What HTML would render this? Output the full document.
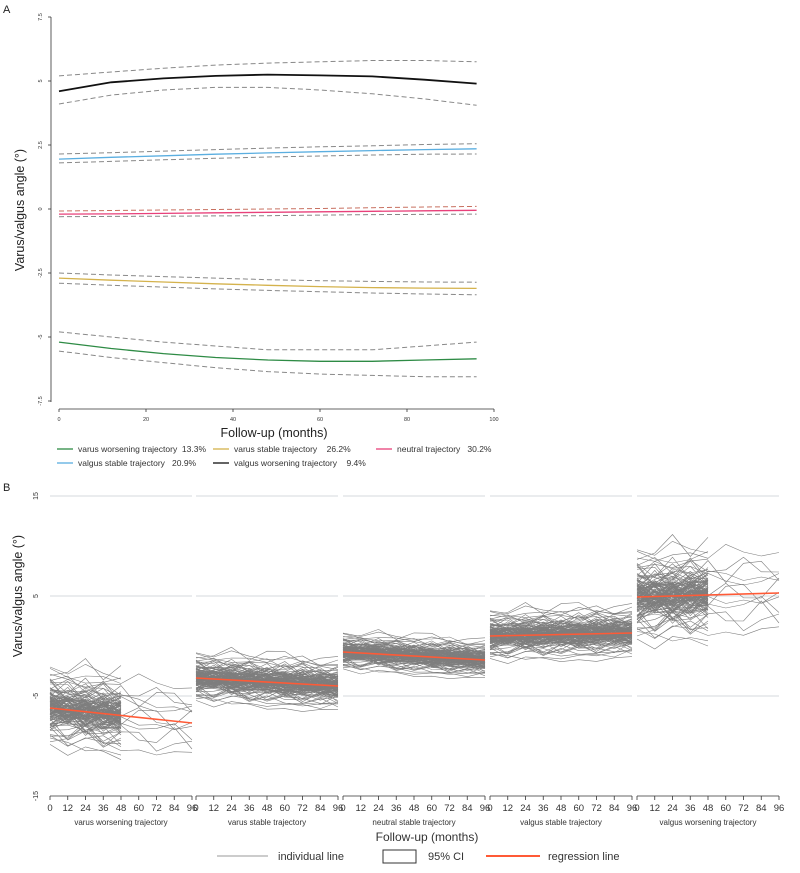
<!DOCTYPE html>
<html><head><meta charset="utf-8">
<style>
body{margin:0;background:#fff;font-family:"Liberation Sans",sans-serif;}
svg text{font-family:"Liberation Sans",sans-serif;}
</style></head>
<body>
<svg id="chart" width="800" height="868" viewBox="0 0 800 868">
</svg>
<script>
// ---------- Panel A data ----------
const monthsA = [0,12,24,36,48,60,72,84,96];
const greenMean=[-5.2,-5.45,-5.65,-5.8,-5.9,-5.95,-5.95,-5.9,-5.85];
const greenUp=[-4.8,-5.0,-5.2,-5.35,-5.5,-5.5,-5.5,-5.35,-5.2];
const greenLo=[-5.55,-5.8,-6.0,-6.2,-6.35,-6.45,-6.5,-6.55,-6.55];
const yellowMean=[-2.7,-2.78,-2.85,-2.92,-2.98,-3.03,-3.07,-3.09,-3.1];
const yellowUp=[-2.5,-2.58,-2.64,-2.7,-2.76,-2.8,-2.83,-2.85,-2.86];
const yellowLo=[-2.9,-2.98,-3.05,-3.12,-3.18,-3.23,-3.28,-3.32,-3.35];
const pinkMean=[-0.2,-0.19,-0.17,-0.15,-0.13,-0.11,-0.09,-0.07,-0.05];
const pinkUp=[-0.08,-0.06,-0.04,-0.02,0.0,0.02,0.05,0.08,0.1];
const pinkLo=[-0.3,-0.29,-0.28,-0.27,-0.26,-0.24,-0.22,-0.21,-0.2];
const blueMean=[1.95,2.02,2.08,2.14,2.19,2.24,2.28,2.32,2.35];
const blueUp=[2.15,2.2,2.26,2.32,2.38,2.43,2.47,2.52,2.55];
const blueLo=[1.8,1.86,1.92,1.98,2.03,2.07,2.11,2.14,2.15];
const blackMean=[4.6,4.95,5.1,5.2,5.25,5.22,5.18,5.05,4.9];
const blackUp=[5.2,5.35,5.5,5.62,5.7,5.75,5.8,5.8,5.75];
const blackLo=[4.1,4.45,4.65,4.75,4.75,4.65,4.5,4.3,4.05];
const yTicksA=[-7.5,-5,-2.5,0,2.5,5,7.5];
const yTickLabelsA=["-7.5","-5","-2.5","0","2.5","5","7.5"];
const xTicksA=[0,20,40,60,80,100];
const legendA=[["varus worsening trajectory  13.3%","#2e8b45"],["varus stable trajectory    26.2%","#d4b24c"],["neutral trajectory   30.2%","#e8407a"],["valgus stable trajectory   20.9%","#5aaee0"],["valgus worsening trajectory    9.4%","#111111"]];

// ---------- Panel B data ----------
const facetNames=["varus worsening trajectory","varus stable trajectory","neutral stable trajectory","valgus  stable trajectory","valgus worsening trajectory"];
const monthsB=[0,12,24,36,48,60,72,84,96];
const regStart=[-6.2,-3.2,-0.6,1.0,4.9];
const regEnd=[-7.7,-4.0,-1.4,1.3,5.3];
const spread=[1.3,0.8,0.6,0.8,1.5];
const subjOffsets=[-2.5,-1.8,-1.2,-0.8,-0.4,0,0.3,0.7,1.1,1.5,2.0,2.6,-2.1,-1.5,-0.6,0.5,1.3,1.8,-1.0,0.1,0.9,-0.2,2.3,-2.8,-1.6,0.4,1.6,-0.9,-0.3,0.8,2.9,-3.2,3.3,-0.5,1.2,-1.3];
const jitter=[0.4,-0.6,0.2,-0.3,0.7,-0.1,0.5,-0.8,0.1,0.3,-0.4,0.6,-0.2,0.8,-0.5,0.0,-0.7,0.35,-0.25,0.55,-0.45,0.15,0.65,-0.35,0.25,-0.65,0.45,-0.15,0.05,-0.55,0.75];
const offsetScales=[1,0.65,0.35,0.15];
const yTicksB=[-15,-5,5,15];
const yGridB=[-5,5,15];

const svg=document.getElementById('chart');
const NS="http://www.w3.org/2000/svg";
function mk(tag,attrs,parent){const e=document.createElementNS(NS,tag);for(const k in attrs)e.setAttribute(k,attrs[k]);(parent||svg).appendChild(e);return e;}

// ----- Panel A -----
const gA=mk('g',{});


const xA=m=>59+m*(494-59)/100;
const yA=v=>209-v*(64/2.5);
let t=mk('text',{x:3,y:13,'font-size':11,fill:'#222'},gA);t.textContent='A';

mk('line',{x1:51,y1:17,x2:51,y2:402,stroke:'#333','stroke-width':0.8},gA);
mk('line',{x1:59,y1:409,x2:494,y2:409,stroke:'#333','stroke-width':0.8},gA);
yTicksA.forEach((v,i)=>{const y=yA(v);
 mk('line',{x1:48,y1:y,x2:51,y2:y,stroke:'#333','stroke-width':0.8},gA);
 const tt=mk('text',{x:42,y:y,'font-size':5.5,fill:'#333','text-anchor':'middle',transform:`rotate(-90 42 ${y})`},gA);tt.textContent=yTickLabelsA[i];
 });
xTicksA.forEach(m=>{const x=xA(m);
 mk('line',{x1:x,y1:409,x2:x,y2:412,stroke:'#333','stroke-width':0.8},gA);
 const tt=mk('text',{x:x,y:421,'font-size':5.5,fill:'#333','text-anchor':'middle'},gA);tt.textContent=m;
 });
t=mk('text',{x:274,y:437,'font-size':12.5,fill:'#222','text-anchor':'middle'},gA);t.textContent='Follow-up (months)';

t=mk('text',{x:24,y:210,'font-size':12.5,fill:'#222','text-anchor':'middle',transform:'rotate(-90 24 210)'},gA);t.textContent='Varus/valgus angle (°)';

function pathA(arr){return arr.map((v,i)=>(i?'L':'M')+xA(monthsA[i]).toFixed(1)+','+yA(v).toFixed(1)).join(' ');}
const groupsA=[[greenMean,greenUp,greenLo,'#2e8b45','green'],[yellowMean,yellowUp,yellowLo,'#d4b24c','yellow'],[pinkMean,pinkUp,pinkLo,'#e8407a','pink'],[blueMean,blueUp,blueLo,'#5aaee0','blue'],[blackMean,blackUp,blackLo,'#111','black']];
groupsA.forEach(g=>{
 let p=mk('path',{d:pathA(g[1]),fill:'none',stroke:g[4]==='pink'?'#c87060':'#888','stroke-width':1,'stroke-dasharray':'5,3'},gA);
 
 p=mk('path',{d:pathA(g[2]),fill:'none',stroke:'#888','stroke-width':1,'stroke-dasharray':'5,3'},gA);
 
 p=mk('path',{d:pathA(g[0]),fill:'none',stroke:g[3],'stroke-width':g[4]==='black'?1.8:1.3},gA);
 
});
const legPos=[[57,452],[213,452],[376,452],[57,466],[213,466]];
legendA.forEach((L,i)=>{const [x,y]=legPos[i];
 const g=mk('g',{},gA);
 mk('line',{x1:x,y1:y-3,x2:x+16,y2:y-3,stroke:L[1],'stroke-width':1.3},g);
 const tt=mk('text',{x:x+21,y:y,'font-size':8.5,fill:'#333'},g);tt.textContent=L[0];tt.style.whiteSpace='pre';});

// ----- Panel B -----
const gB=mk('g',{});


const yB=v=>646-10*v;
const facetLeft=[50,196,343,490,637];const facetW=142;
t=mk('text',{x:3,y:491,'font-size':11,fill:'#222'},gB);t.textContent='B';

yTicksB.forEach(v=>{const y=yB(v);
 const tt=mk('text',{x:38,y:y,'font-size':7,fill:'#333','text-anchor':'middle',transform:`rotate(-90 38 ${y})`},gB);tt.textContent=v;
 });
t=mk('text',{x:22,y:596,'font-size':12.5,fill:'#222','text-anchor':'middle',transform:'rotate(-90 22 596)'},gB);t.textContent='Varus/valgus angle (°)';

facetLeft.forEach((L,f)=>{
 const g=mk('g',{},gB);
 const xB=m=>L+m*facetW/96;
 yGridB.forEach(v=>mk('line',{x1:L,y1:yB(v),x2:L+facetW,y2:yB(v),stroke:'#d6d9dc','stroke-width':1},g));
 offsetScales.forEach((sc,k)=>{
  subjOffsets.forEach((o,s)=>{
   const full=!(f===0||f===4)||(k===0&&s<12);
   const lastIdx=full?8:4;
   let d='';
   for(let j=0;j<=lastIdx;j++){const m=monthsB[j];
    const reg=regStart[f]+(regEnd[f]-regStart[f])*m/96;
    const v=reg+o*spread[f]*sc+jitter[(s*7+j*3+k*5)%jitter.length]*spread[f];
    d+=(j?'L':'M')+xB(m).toFixed(1)+','+yB(v).toFixed(1);}
   const p=mk('path',{d:d,fill:'none',stroke:'#7e7e7e','stroke-width':0.6},g);
   
  });
 });
 const r=mk('line',{x1:xB(0),y1:yB(regStart[f]),x2:xB(96),y2:yB(regEnd[f]),stroke:'#ff5a36','stroke-width':1.6},g);
 
 mk('line',{x1:L,y1:796,x2:L+facetW,y2:796,stroke:'#333','stroke-width':0.8},g);
 monthsB.forEach(m=>{const x=xB(m);mk('line',{x1:x,y1:796,x2:x,y2:800,stroke:'#333','stroke-width':0.8},g);
  const tt=mk('text',{x:x,y:811,'font-size':9.5,fill:'#333','text-anchor':'middle'},g);tt.textContent=m;
  });
 const ft=mk('text',{x:L+facetW/2,y:825,'font-size':8,fill:'#333','text-anchor':'middle'},g);ft.textContent=facetNames[f];
 
});
t=mk('text',{x:427,y:841,'font-size':12,fill:'#333','text-anchor':'middle'},gB);t.textContent='Follow-up (months)';

let lg=mk('g',{},gB);
mk('line',{x1:217,y1:856,x2:268,y2:856,stroke:'#999','stroke-width':1},lg);
t=mk('text',{x:278,y:860,'font-size':11,fill:'#333'},lg);t.textContent='individual line';
lg=mk('g',{},gB);
mk('rect',{x:383,y:850,width:33,height:13,fill:'none',stroke:'#333','stroke-width':1},lg);
t=mk('text',{x:428,y:860,'font-size':11,fill:'#333'},lg);t.textContent='95% CI';
lg=mk('g',{},gB);
mk('line',{x1:486,y1:856,x2:540,y2:856,stroke:'#ff5a36','stroke-width':2},lg);
t=mk('text',{x:548,y:860,'font-size':11,fill:'#333'},lg);t.textContent='regression line';
</script>
</body></html>
